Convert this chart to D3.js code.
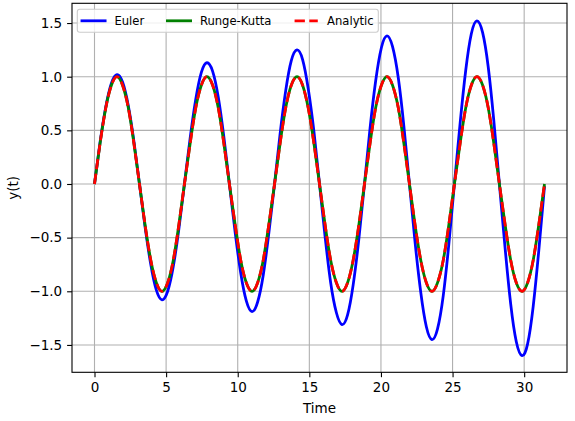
<!DOCTYPE html>
<html>
<head>
<meta charset="utf-8">
<script src="https://cdn.jsdelivr.net/npm/d3@7"></script>
<style>
  html, body { margin: 0; padding: 0; background: #fff; overflow: hidden; }
  svg { display: block; font-family: "DejaVu Sans", sans-serif; }
</style>
</head>
<body>
<div id="chart"></div>
<script>
// sample times (read along the x axis, every ~0.39)
const time = [0, 0.39, 0.79, 1.18, 1.57, 1.96, 2.36, 2.75, 3.14, 3.53, 3.93, 4.32, 4.71, 5.11, 5.50, 5.89,
  6.28, 6.68, 7.07, 7.46, 7.85, 8.25, 8.64, 9.03, 9.42, 9.82, 10.21, 10.60, 11.00, 11.39, 11.78, 12.17,
  12.57, 12.96, 13.35, 13.74, 14.14, 14.53, 14.92, 15.32, 15.71, 16.10, 16.49, 16.89, 17.28, 17.67, 18.06, 18.46,
  18.85, 19.24, 19.63, 20.03, 20.42, 20.81, 21.21, 21.60, 21.99, 22.38, 22.78, 23.17, 23.56, 23.95, 24.35, 24.74,
  25.13, 25.53, 25.92, 26.31, 26.70, 27.10, 27.49, 27.88, 28.27, 28.67, 29.06, 29.45, 29.85, 30.24, 30.63, 31.02,
  31.42];

const euler = [0, 0.39, 0.72, 0.94, 1.02, 0.95, 0.73, 0.40, 0, -0.40, -0.75, -0.99, -1.08, -1.00, -0.77, -0.42,
  0, 0.43, 0.79, 1.04, 1.13, 1.05, 0.81, 0.44, 0, -0.45, -0.83, -1.09, -1.19, -1.10, -0.85, -0.46,
  0, 0.47, 0.87, 1.15, 1.25, 1.16, 0.89, 0.49, 0, -0.49, -0.92, -1.20, -1.31, -1.22, -0.94, -0.51,
  0, 0.52, 0.96, 1.27, 1.38, 1.28, 0.99, 0.54, 0, -0.54, -1.01, -1.33, -1.45, -1.35, -1.04, -0.56,
  0, 0.57, 1.06, 1.40, 1.52, 1.41, 1.09, 0.59, 0, -0.60, -1.12, -1.47, -1.60, -1.49, -1.14, -0.62,
  -0.02];

const rungeKutta = [0, 0.38, 0.71, 0.92, 1.00, 0.92, 0.71, 0.38, 0, -0.38, -0.71, -0.92, -1.00, -0.92, -0.71, -0.38,
  0, 0.38, 0.71, 0.92, 1.00, 0.92, 0.71, 0.38, 0, -0.38, -0.71, -0.92, -1.00, -0.92, -0.71, -0.38,
  0, 0.38, 0.71, 0.92, 1.00, 0.92, 0.71, 0.38, 0, -0.38, -0.71, -0.92, -1.00, -0.92, -0.71, -0.38,
  0, 0.38, 0.71, 0.92, 1.00, 0.92, 0.71, 0.38, 0, -0.38, -0.71, -0.92, -1.00, -0.92, -0.71, -0.38,
  0, 0.38, 0.71, 0.92, 1.00, 0.92, 0.71, 0.38, 0, -0.38, -0.71, -0.92, -1.00, -0.92, -0.71, -0.38,
  0];

const analytic = [0, 0.38, 0.71, 0.92, 1.00, 0.92, 0.71, 0.38, 0, -0.38, -0.71, -0.92, -1.00, -0.92, -0.71, -0.38,
  0, 0.38, 0.71, 0.92, 1.00, 0.92, 0.71, 0.38, 0, -0.38, -0.71, -0.92, -1.00, -0.92, -0.71, -0.38,
  0, 0.38, 0.71, 0.92, 1.00, 0.92, 0.71, 0.38, 0, -0.38, -0.71, -0.92, -1.00, -0.92, -0.71, -0.38,
  0, 0.38, 0.71, 0.92, 1.00, 0.92, 0.71, 0.38, 0, -0.38, -0.71, -0.92, -1.00, -0.92, -0.71, -0.38,
  0, 0.38, 0.71, 0.92, 1.00, 0.92, 0.71, 0.38, 0, -0.38, -0.71, -0.92, -1.00, -0.92, -0.71, -0.38,
  0];

const xTicks = [0, 5, 10, 15, 20, 25, 30];
const yTicks = [-1.5, -1.0, -0.5, 0.0, 0.5, 1.0, 1.5];
const seriesNames = ['Euler', 'Runge-Kutta', 'Analytic'];

const width = 575, height = 421;
const margin = {top: 3.3, right: 8, bottom: 48.7, left: 72};
const innerWidth = width - margin.left - margin.right;
const innerHeight = height - margin.top - margin.bottom;

const svg = d3.select('#chart').append('svg')
    .attr('width', width)
    .attr('height', height);

const g = svg.append('g')
    .attr('transform', `translate(${margin.left},${margin.top})`);

const xScale = d3.scaleLinear()
    .domain([-1.571, 32.99])
    .range([0, innerWidth]);

const yScale = d3.scaleLinear()
    .domain([-1.755, 1.684])
    .range([innerHeight, 0]);

// grid
g.append('g').selectAll('line').data(xTicks).enter().append('line')
    .attr('x1', d => xScale(d)).attr('x2', d => xScale(d))
    .attr('y1', 0).attr('y2', innerHeight)
    .attr('stroke', '#b0b0b0').attr('stroke-width', 1.1);
g.append('g').selectAll('line').data(yTicks).enter().append('line')
    .attr('y1', d => yScale(d)).attr('y2', d => yScale(d))
    .attr('x1', 0).attr('x2', innerWidth)
    .attr('stroke', '#b0b0b0').attr('stroke-width', 1.1);

// lines
const series = [
    {name: seriesNames[0], values: euler, color: '#0000ff', dash: null},
    {name: seriesNames[1], values: rungeKutta, color: '#008000', dash: null},
    {name: seriesNames[2], values: analytic, color: '#ff0000', dash: '10.3,4.4'}
];

const line = d3.line()
    .x(d => xScale(d[0]))
    .y(d => yScale(d[1]))
    .curve(d3.curveNatural);

series.forEach(s => {
    g.append('path')
        .datum(time.map((t, i) => [t, s.values[i]]))
        .attr('fill', 'none')
        .attr('stroke', s.color)
        .attr('stroke-width', 2.78)
        .attr('stroke-dasharray', s.dash)
        .attr('d', line);
});

// axes
const xAxis = d3.axisBottom(xScale).tickValues(xTicks).tickSize(4.9).tickPadding(4.9)
    .tickFormat(d3.format('d'));
const yAxis = d3.axisLeft(yScale).tickValues(yTicks).tickSize(4.9).tickPadding(4.9)
    .tickFormat(d3.format('.1f'));

const xAxisG = g.append('g').attr('transform', `translate(0,${innerHeight})`).call(xAxis);
const yAxisG = g.append('g').call(yAxis);
[xAxisG, yAxisG].forEach(a => {
    a.select('.domain').remove();
    a.selectAll('line').attr('stroke-width', 1.1);
    a.selectAll('text').attr('font-size', 13.5).attr('fill', '#000')
        .attr('font-family', '"DejaVu Sans", sans-serif');
});

// frame
g.append('rect')
    .attr('width', innerWidth).attr('height', innerHeight)
    .attr('fill', 'none').attr('stroke', '#000').attr('stroke-width', 1.1);

// labels
svg.append('text')
    .attr('x', margin.left + innerWidth / 2).attr('y', 412.5)
    .attr('text-anchor', 'middle').attr('font-size', 13.5)
    .text('Time');

svg.append('text')
    .attr('transform', `translate(18,${margin.top + innerHeight / 2}) rotate(-90)`)
    .attr('text-anchor', 'middle').attr('font-size', 13.5)
    .text('y(t)');

// legend
const fs = 11.6;
const legend = svg.append('g');
const legendBox = legend.append('rect')
    .attr('x', 77.3).attr('y', 9.3).attr('height', 23).attr('rx', 2.5)
    .attr('fill', '#fff').attr('fill-opacity', 0.8)
    .attr('stroke', '#cccccc').attr('stroke-width', 1.1);

let lx = 77.3 + 0.4 * fs;
const ly = 20.8;
series.forEach(s => {
    legend.append('line')
        .attr('x1', lx).attr('x2', lx + 2 * fs)
        .attr('y1', ly).attr('y2', ly)
        .attr('stroke', s.color).attr('stroke-width', 2.78)
        .attr('stroke-linecap', s.dash ? 'butt' : 'square')
        .attr('stroke-dasharray', s.dash);
    const txt = legend.append('text')
        .attr('x', lx + 2.8 * fs).attr('y', ly)
        .attr('dy', '0.35em').attr('font-size', fs)
        .text(s.name);
    lx = lx + 2.8 * fs + txt.node().getComputedTextLength() + 2 * fs;
});
legendBox.attr('width', lx - 2 * fs + 0.4 * fs - 77.3);
</script>
</body>
</html>
